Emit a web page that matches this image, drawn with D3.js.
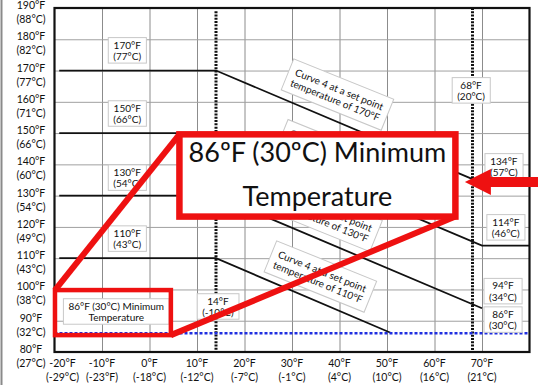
<!DOCTYPE html>
<html>
<head>
<meta charset="utf-8">
<title>Curve 4 set points</title>
<script src="https://d3js.org/d3.v7.min.js"></script>
<style>
  body { margin: 0; background: #fff; }
  text { font-family: Lato, "Liberation Sans", sans-serif; fill: #111; }
</style>
</head>
<body>
<div id="chart"></div>
<script>
// ---- data ----
var xTicks = [-20, -10, 0, 10, 20, 30, 40, 50, 60, 70];
var xTickF = ["-20°F", "-10°F", "0°F", "10°F", "20°F", "30°F", "40°F", "50°F", "60°F", "70°F"];
var xTickC = ["(-29°C)", "(-23°F)", "(-18°C)", "(-12°C)", "(-7°C)", "(-1°C)", "(4°C)", "(10°C)", "(16°C)", "(21°C)"];
var yTicks = [190, 180, 170, 160, 150, 140, 130, 120, 110, 100, 90, 80];
var yTickC = ["(88°C)", "(82°C)", "(77°C)", "(71°C)", "(66°C)", "(60°C)", "(54°C)", "(49°C)", "(43°C)", "(38°C)", "(32°C)", "(27°C)"];

// curve 4 at each set point: [outdoor °F, supply °F]
var curve170 = [[-19, 170], [14, 170], [70, 134]];
var curve150 = [[-19, 150], [14, 150], [70, 114], [80, 114]];
var curve130 = [[-19, 130], [14, 130], [70, 94]];
var curve110 = [[-19, 110], [14, 110], [51, 86]];
var minTemp = [[-20, 86], [80, 86]];
var markerTemps = [14, 68];

// boxed labels, anchored in chart units
var boxLabels = [
  {lines: ["170°F", "(77°C)"], x: -4.7, y: 176.3},
  {lines: ["150°F", "(66°C)"], x: -4.7, y: 156.1},
  {lines: ["130°F", "(54°C)"], x: -4.7, y: 135.6},
  {lines: ["110°F", "(43°C)"], x: -4.7, y: 116.1},
  {lines: ["86°F (30°C) Minimum", "Temperature"], x: -7.0, y: 92.8},
  {lines: ["14°F", "(-10°C)"], x: 14.4, y: 94.4},
  {lines: ["68°F", "(20°C)"], x: 67.7, y: 163.5},
  {lines: ["134°F", "(57°C)"], x: 74.6, y: 139.2},
  {lines: ["114°F", "(46°C)"], x: 75.0, y: 119.7},
  {lines: ["94°F", "(34°C)"], x: 74.4, y: 99.3},
  {lines: ["86°F", "(30°C)"], x: 74.4, y: 90.2}
];
var curveLabels = [
  {lines: ["Curve 4 at a set point", "temperature of 170°F"], x: 39.5, y: 162.2},
  {lines: ["Curve 4 at a set point", "temperature of 150°F"], x: 38.3, y: 142.8},
  {lines: ["Curve 4 at a set point", "temperature of 130°F"], x: 37.1, y: 123.4},
  {lines: ["Curve 4 at a set point", "temperature of 110°F"], x: 35.9, y: 104.0}
];

var width = 538, height = 385;
var svg = d3.select("#chart").append("svg")
  .attr("width", width).attr("height", height);

var x = d3.scaleLinear().domain([-20, 80]).range([54.5, 529.5]);
var y = d3.scaleLinear().domain([80, 190]).range([352, 8]);

// page edge
svg.append("line").attr("x1", 1.5).attr("x2", 1.5).attr("y1", 0).attr("y2", height)
  .attr("stroke", "#8a8a8a").attr("stroke-width", 2);

// grid
svg.append("g").call(d3.axisBottom(x).tickValues(d3.range(-10, 80, 10)).tickSize(-(y(80) - y(190))).tickFormat(""))
  .attr("transform", "translate(0," + y(80) + ")")
  .call(function (g) { g.select(".domain").remove(); })
  .selectAll("line").attr("stroke", "#8c8c8c");
svg.append("g").call(d3.axisLeft(y).tickValues(d3.range(90, 190, 10)).tickSize(-(x(80) - x(-20))).tickFormat(""))
  .attr("transform", "translate(" + x(-20) + ",0)")
  .call(function (g) { g.select(".domain").remove(); })
  .selectAll("line").attr("stroke", "#a0a0a0");

// frame
svg.append("rect").attr("x", x(-20)).attr("y", y(190))
  .attr("width", x(80) - x(-20)).attr("height", y(80) - y(190))
  .attr("fill", "none").attr("stroke", "#111").attr("stroke-width", 2.2);

// axis labels
var xl = svg.append("g");
xTicks.forEach(function (t, i) {
  var px = i === 0 ? x(t) + 8 : x(t);
  xl.append("text").attr("x", px).attr("y", 367).attr("text-anchor", "middle")
    .attr("font-size", 10.5).text(xTickF[i]);
  xl.append("text").attr("x", px).attr("y", 381).attr("text-anchor", "middle")
    .attr("font-size", 10.5).text(xTickC[i]);
});
var yl = svg.append("g");
yTicks.forEach(function (t, i) {
  yl.append("text").attr("x", 31).attr("y", y(t) + 1).attr("text-anchor", "middle")
    .attr("font-size", 10.5).text(t + "°F");
  yl.append("text").attr("x", 31).attr("y", y(t) + 15).attr("text-anchor", "middle")
    .attr("font-size", 10.5).text(yTickC[i]);
});

// vertical dotted markers
markerTemps.forEach(function (t) {
  svg.append("line").attr("x1", x(t)).attr("x2", x(t))
    .attr("y1", y(t === 14 ? 189 : 190)).attr("y2", y(80))
    .attr("stroke", "#111").attr("stroke-width", 3).attr("stroke-dasharray", "2,1.3");
});

// curves
var line = d3.line().x(function (d) { return x(d[0]); }).y(function (d) { return y(d[1]); });
[curve170, curve150, curve130, curve110].forEach(function (c) {
  svg.append("path").attr("d", line(c)).attr("fill", "none")
    .attr("stroke", "#111").attr("stroke-width", 1.8);
});
svg.append("path").attr("d", line(minTemp)).attr("fill", "none")
  .attr("stroke", "#1f2ee0").attr("stroke-width", 2.6).attr("stroke-dasharray", "3,2");

// boxed label helper
function boxed(g, lines, fs, lh, padX, padY) {
  var t = g.append("text").attr("text-anchor", "middle").attr("font-size", fs).attr("fill", "#222");
  lines.forEach(function (s, i) {
    t.append("tspan").attr("x", 0).attr("y", (i - (lines.length - 1) / 2) * lh + fs * 0.35).text(s);
  });
  var b = t.node().getBBox();
  g.insert("rect", "text").attr("x", b.x - padX).attr("y", b.y - padY)
    .attr("width", b.width + 2 * padX).attr("height", b.height + 2 * padY)
    .attr("fill", "#fff").attr("stroke", "#c8c8c8").attr("stroke-width", 1);
}

curveLabels.forEach(function (d) {
  var g = svg.append("g").attr("transform", "translate(" + x(d.x) + "," + y(d.y) + ") rotate(22)");
  boxed(g, d.lines, 10, 11.5, 6, 5);
});
boxLabels.forEach(function (d) {
  var g = svg.append("g").attr("transform", "translate(" + x(d.x) + "," + y(d.y) + ")");
  boxed(g, d.lines, 10, 11.5, 5, 1);
});

// red call-out overlay
var red = "#ee1111";
svg.append("rect").attr("x", x(-19.9)).attr("y", y(99.8))
  .attr("width", x(4.5) - x(-19.9)).attr("height", y(85.4) - y(99.8))
  .attr("fill", "none").attr("stroke", red).attr("stroke-width", 4.5);
svg.append("line").attr("x1", x(-19.9)).attr("y1", y(99.8)).attr("x2", x(6.3)).attr("y2", y(149.6))
  .attr("stroke", red).attr("stroke-width", 6);
svg.append("line").attr("x1", x(4.5)).attr("y1", y(85.4)).attr("x2", x(64.4)).attr("y2", y(123.3))
  .attr("stroke", red).attr("stroke-width", 6);
var big = svg.append("g");
big.append("rect").attr("x", x(6.3)).attr("y", y(149.6))
  .attr("width", x(64.4) - x(6.3)).attr("height", y(123.3) - y(149.6))
  .attr("fill", "#fff").attr("stroke", red).attr("stroke-width", 6.5);
var bt = big.append("text").attr("text-anchor", "middle").attr("font-size", 27)
  .attr("fill", "#262c48").attr("x", (x(6.3) + x(64.4)) / 2);
bt.append("tspan").attr("x", (x(6.3) + x(64.4)) / 2).attr("y", 162).text("86ºF (30ºC) Minimum");
bt.append("tspan").attr("x", (x(6.3) + x(64.4)) / 2).attr("y", 206).text("Temperature");

// arrow pointing at the 134°F point
var tipX = x(66.4), tipY = y(134.4);
svg.append("path")
  .attr("d", "M" + tipX + "," + tipY + " l26,-13 l0,8 l" + (width - tipX - 26) + ",0 l0,10 l" + (-(width - tipX - 26)) + ",0 l0,8 z")
  .attr("fill", red);
</script>
</body>
</html>
